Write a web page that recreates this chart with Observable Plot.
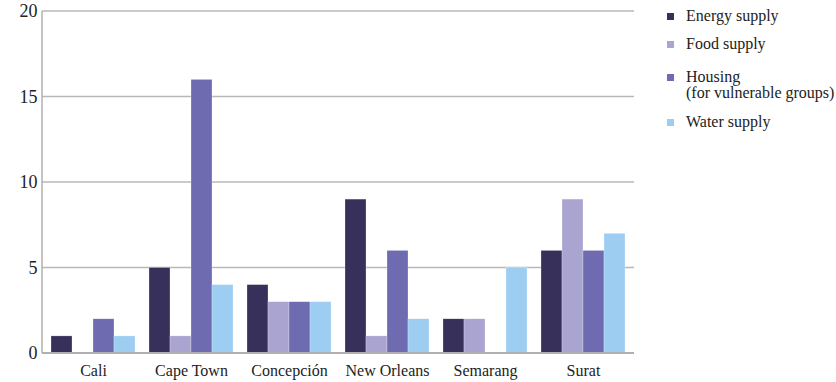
<!DOCTYPE html>
<html><head><meta charset="utf-8">
<script src="https://cdn.jsdelivr.net/npm/d3@7"></script>
<script src="https://cdn.jsdelivr.net/npm/@observablehq/plot@0.6"></script>
<style>
body{margin:0;background:#fff;font-family:"Liberation Serif","Times New Roman",serif;}
#wrap{position:relative;width:836px;height:382px;}
#legend{position:absolute;left:667px;top:0;font-size:16px;color:#222;}
.li{position:absolute;left:0;white-space:nowrap;line-height:16px;}
.sw{position:absolute;left:0;width:7px;height:7px;top:5px;}
.lt{position:absolute;left:19px;top:0;}
</style></head>
<body><div id="wrap"><div id="chart"></div><div id="legend"></div></div>
<script>
const cities = ["Cali","Cape Town","Concepción","New Orleans","Semarang","Surat"];
const series = ["Energy supply","Food supply","Housing (for vulnerable groups)","Water supply"];
const energy = [1,5,4,9,2,6];
const food = [0,1,3,1,2,9];
const housing = [2,16,3,6,0,6];
const water = [1,4,3,2,5,7];
const yTicks = [0,5,10,15,20];
const colors = ["#37305a","#a9a4d0","#6f6bb1","#9dcdf0"];

const vals = [energy, food, housing, water];
const data = [];
cities.forEach((c,i)=>series.forEach((s,j)=>data.push({city:c, series:s, value:vals[j][i]})));

const chart = Plot.plot({
  width:836, height:382,
  marginLeft:42, marginRight:202, marginTop:11, marginBottom:29,
  style:{fontFamily:"'Liberation Serif','Times New Roman',serif", fontSize:"16px", color:"#222", background:"#fff"},
  fx:{domain:cities, paddingInner:0.145, paddingOuter:0.07, label:null},
  x:{domain:series, padding:0, axis:null},
  y:{domain:[0,20], ticks:yTicks, label:null},
  color:{domain:series, range:colors},
  marks:[
    Plot.barY(data, {fx:"city", x:"series", y:"value", fill:"series", inset:0, stroke:"#fff", strokeWidth:0.5, strokeOpacity:0.5}),
    Plot.axisY({ticks:yTicks, tickSize:0, tickPadding:0, dx:-14, fontSize:18, label:null}),
    Plot.axisFx({anchor:"bottom", tickSize:0, tickPadding:11, fontSize:16, label:null})
  ]
});
document.getElementById("chart").appendChild(chart);

// gridlines and axis lines drawn with d3 on the plot's own y scale
const ys = chart.scale("y");
const svg = d3.select(chart);
const x0 = 42, x1 = 836-202;
const g = svg.insert("g", ":first-child");
yTicks.filter(d=>d>0).forEach(t=>{
  g.append("line").attr("x1",x0).attr("x2",x1).attr("y1",ys.apply(t)).attr("y2",ys.apply(t))
   .attr("stroke","#b8b8b8").attr("stroke-width",1.5);
});
svg.append("line").attr("x1",x0).attr("x2",x1).attr("y1",ys.apply(0)).attr("y2",ys.apply(0))
  .attr("stroke","#b0b0b0").attr("stroke-width",2);
svg.append("line").attr("x1",x0).attr("x2",x0).attr("y1",ys.apply(20)).attr("y2",ys.apply(0))
  .attr("stroke","#b0b0b0").attr("stroke-width",1.5);

const legendItems = [
  {label:["Energy supply"], top:8},
  {label:["Food supply"], top:36},
  {label:["Housing","(for vulnerable groups)"], top:69},
  {label:["Water supply"], top:114}
];
const lg = document.getElementById("legend");
legendItems.forEach((it,i)=>{
  const d = document.createElement("div"); d.className="li"; d.style.top=it.top+"px";
  const sw = document.createElement("div"); sw.className="sw"; sw.style.background=colors[i];
  const t = document.createElement("div"); t.className="lt"; t.innerHTML = it.label.join("<br>");
  d.appendChild(sw); d.appendChild(t); lg.appendChild(d);
});
</script></body></html>
